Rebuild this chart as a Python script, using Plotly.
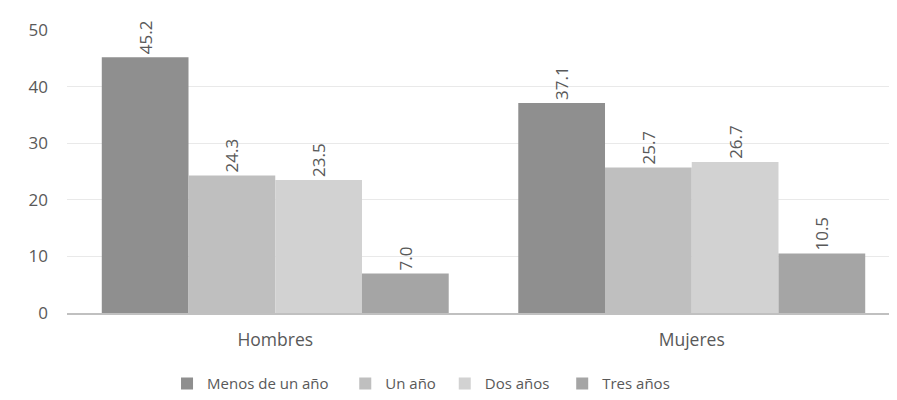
import plotly.graph_objects as go

categories = ["Hombres", "Mujeres"]
series_names = ["Menos de un año", "Un año", "Dos años", "Tres años"]
menos_un_ano = [45.2, 37.1]
un_ano = [24.3, 25.7]
dos_anos = [23.5, 26.7]
tres_anos = [7.0, 10.5]
y_ticks = [0, 10, 20, 30, 40, 50]

values = [menos_un_ano, un_ano, dos_anos, tres_anos]
colors = ["#8f8f8f", "#bfbfbf", "#d2d2d2", "#a5a5a5"]
pads = ["\u00a0\u00a0\u00a0", "\u00a0", "\u00a0\u00a0", ""]

fig = go.Figure()
for name, vals, col, pad in zip(series_names, values, colors, pads):
    fig.add_trace(go.Bar(
        x=categories, y=vals, name=name + pad,
        marker=dict(color=col, line=dict(width=0)),
        text=[f"{v:.1f}" for v in vals],
        textposition="outside", textangle=-90,
        textfont=dict(size=17, color="#595959", family="Open Sans"),
        cliponaxis=False,
    ))

fig.update_layout(
    width=897, height=400,
    margin=dict(l=59, r=5, t=22, b=95),
    paper_bgcolor="white", plot_bgcolor="white",
    barmode="group", bargap=0.167, bargroupgap=0,
    font=dict(family="Open Sans", color="#595959", size=15),
    showlegend=True,
    legend=dict(orientation="h", x=0.425, xanchor="center", y=-0.25, yanchor="middle",
                font=dict(size=15, color="#595959"), itemwidth=30,
                traceorder="normal"),
)
fig.update_yaxes(range=[0, 50], tickvals=y_ticks, showgrid=True, gridcolor="#e9e9e9",
                 gridwidth=1, zeroline=False, showline=False,
                 tickfont=dict(size=17, color="#595959"), ticklabelstandoff=18)
fig.update_xaxes(showline=True, linecolor="#c0c0c0", linewidth=2,
                 tickfont=dict(size=17.5, color="#595959"), ticklabelstandoff=10,
                 ticks="")
fig.write_html("out.html")
